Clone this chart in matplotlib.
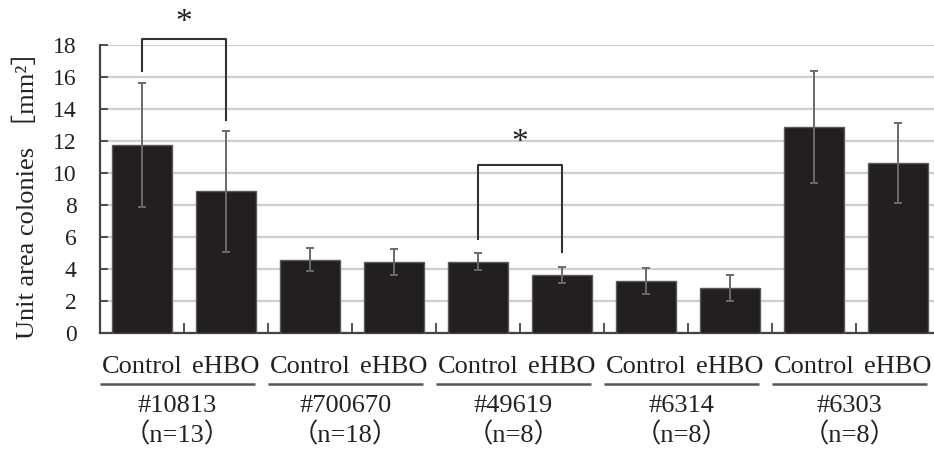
import matplotlib
matplotlib.use("Agg")
import matplotlib.pyplot as plt
import numpy as np

# ---- data ----
conditions = ["Control", "eHBO"]
groups = ["#10813", "#700670", "#49619", "#6314", "#6303"]
group_n = ["（n=13）", "（n=18）", "（n=8）", "（n=8）", "（n=8）"]
means = [11.75, 8.85, 4.58, 4.45, 4.45, 3.65, 3.25, 2.8, 12.85, 10.65]
errors = [3.9, 3.8, 0.72, 0.8, 0.52, 0.5, 0.8, 0.8, 3.5, 2.5]
yticks = [0, 2, 4, 6, 8, 10, 12, 14, 16, 18]
# significance brackets: (left bar idx, right bar idx, left foot, right foot, top, star y)
brackets = [(0, 1, 16.4, 13.3, 18.4, 19.4), (4, 5, 5.9, 5.05, 10.5, 11.9)]

serif = ["Liberation Serif", "Noto Sans CJK JP", "DejaVu Sans"]
plt.rcParams["font.family"] = serif

fig = plt.figure(figsize=(9.34, 4.5), dpi=100)
ax = fig.add_axes([100 / 934, 1 - 333 / 450, 840 / 934, 288 / 450])

x = np.arange(len(means))
ax.bar(x, means, width=0.71, color="#231f20", edgecolor="#5a5a5a", linewidth=1.0, zorder=3)
ax.errorbar(x, means, yerr=errors, fmt="none", ecolor="#6a6a6a", elinewidth=1.4,
            capsize=3, capthick=1.4, zorder=4)

ax.set_xlim(-0.5, len(means) - 0.5)
ax.set_ylim(0, 18)
ax.set_yticks(yticks)
ax.set_yticklabels([str(t) for t in yticks], fontsize=17, family=serif, color="#222222")
ax.yaxis.grid(True, color="#cfcfcf", linewidth=1.6, zorder=0)
ax.set_axisbelow(True)
ax.tick_params(axis="y", direction="in", length=6, width=1.3, color="#444444", pad=17)

# x ticks at category boundaries (inward), no labels there
ax.set_xticks(np.arange(len(means) - 1) + 0.5)
ax.set_xticklabels([])
ax.tick_params(axis="x", direction="in", length=7, width=1.3, color="#444444")

for s in ["top", "right"]:
    ax.spines[s].set_visible(False)
for s in ["left", "bottom"]:
    ax.spines[s].set_color("#444444")
    ax.spines[s].set_linewidth(1.6)

ax.set_ylabel("Unit area colonies ［mm²］", fontsize=19, family=serif, color="#222222", labelpad=10)

# condition labels under each bar
trans = ax.get_xaxis_transform()
for i in range(len(means)):
    ax.text(x[i], -0.08, conditions[i % 2], transform=trans, ha="center", va="top",
            fontsize=19, family=serif, color="#222222", clip_on=False)

# group underline + names
for g in range(len(groups)):
    c = 2 * g + 0.5 - 0.08
    ax.plot([c - 0.925, c + 0.925], [-0.178, -0.178], transform=trans, color="#555555",
            linewidth=1.8, clip_on=False, solid_capstyle="butt")
    ax.text(c, -0.215, groups[g], transform=trans, ha="center", va="top",
            fontsize=19, family=serif, color="#222222", clip_on=False)
    ax.text(c, -0.31, group_n[g], transform=trans, ha="center", va="top",
            fontsize=19, family=serif, color="#222222", clip_on=False)

# significance brackets
for (l, r, yl, yr, top, ys) in brackets:
    ax.plot([l, l, r, r], [yl, top, top, yr], color="#333333", linewidth=1.5,
            clip_on=False, zorder=5)
    ax.text((l + r) / 2, ys, "*", ha="center", va="center", fontsize=24,
            family=serif, color="#222222", clip_on=False)

fig.savefig("out.png", dpi=100)
